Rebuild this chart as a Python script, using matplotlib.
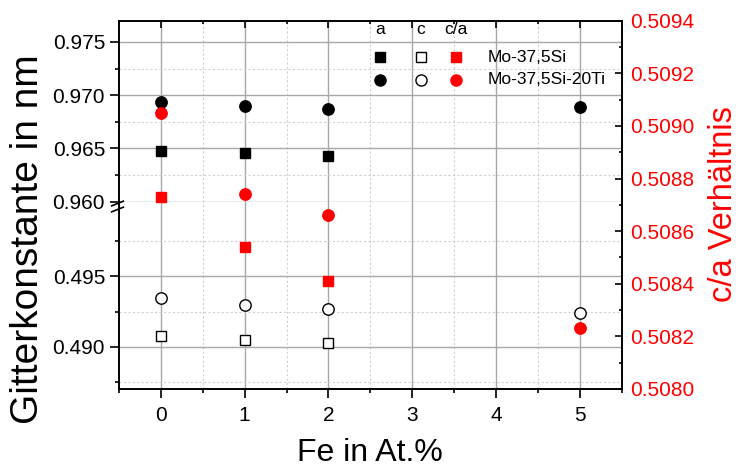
import matplotlib
matplotlib.use("Agg")
import matplotlib.pyplot as plt
from matplotlib.ticker import FixedLocator, MultipleLocator, FormatStrFormatter

plt.rcParams["font.family"] = ["Liberation Sans", "DejaVu Sans"]

# Fe content (at.%) for the two alloys
fe_mosi = [0, 1, 2]
fe_moti = [0, 1, 2, 5]

# lattice parameters a and c in nm, c/a ratio
a_mosi = [0.96480, 0.96453, 0.96428]
a_moti = [0.96937, 0.96900, 0.96875, 0.96890]
c_mosi = [0.49079, 0.49050, 0.49024]
c_moti = [0.49345, 0.49295, 0.49271, 0.49243]
ca_mosi = [0.50873, 0.50854, 0.50841]
ca_moti = [0.50905, 0.50874, 0.50866, 0.50823]

x_ticks = [0, 1, 2, 3, 4, 5]
red = "#ff0000"
tick_fs = 15

fig = plt.figure(figsize=(7.38, 4.68), dpi=100)
L, R = 119 / 738, 621.7 / 738
T, BRK, B = 1 - 20.7 / 468, 1 - 201.7 / 468, 1 - 389 / 468
W = R - L

ax_top = fig.add_axes([L, BRK, W, T - BRK])
ax_bot = fig.add_axes([L, B, W, BRK - B])
ax_r = fig.add_axes([L, B, W, T - B])
ax_r.patch.set_visible(False)

for ax in (ax_top, ax_bot):
    ax.set_xlim(-0.5, 5.5)
    ax.xaxis.set_major_locator(FixedLocator(x_ticks))
    ax.xaxis.set_minor_locator(MultipleLocator(0.5))
    ax.grid(which="major", color="#a8a8a8", lw=1.0, ls="-")
    ax.grid(which="minor", color="#d0d0d0", lw=0.8, ls=(0, (2, 2)))
    ax.set_axisbelow(True)
    ax.spines["right"].set_visible(False)
    ax.spines["left"].set_linewidth(1.4)
    ax.tick_params(axis="y", which="major", direction="out", length=6.5, width=1.2,
                   labelsize=tick_fs)
    ax.tick_params(axis="y", which="minor", direction="out", length=3, width=1.2)
    ax.yaxis.set_major_formatter(FormatStrFormatter("%.3f"))

# upper segment: a
ax_top.set_ylim(0.960, 0.977)
ax_top.yaxis.set_major_locator(FixedLocator([0.960, 0.965, 0.970, 0.975]))
ax_top.yaxis.set_minor_locator(FixedLocator([0.9625, 0.9675, 0.9725]))
ax_top.spines["top"].set_visible(False)
ax_top.spines["bottom"].set_visible(False)
ax_top.tick_params(axis="x", which="both", length=0, labelbottom=False)
ax_top.plot(fe_mosi, a_mosi, ls="none", marker="s", ms=7.5, color="black")
ax_top.plot(fe_moti, a_moti, ls="none", marker="o", ms=8.2, color="black")

# lower segment: c
ax_bot.set_ylim(0.487, 0.5003)
ax_bot.yaxis.set_major_locator(FixedLocator([0.490, 0.495]))
ax_bot.yaxis.set_minor_locator(FixedLocator([0.4875, 0.4925, 0.4975]))
ax_bot.spines["top"].set_visible(False)
ax_bot.spines["bottom"].set_linewidth(1.4)
ax_bot.tick_params(axis="x", which="major", direction="out", length=6.5, width=1.2,
                   labelsize=tick_fs, pad=6)
ax_bot.tick_params(axis="x", which="minor", direction="out", length=3, width=1.2)
ax_bot.plot(fe_mosi, c_mosi, ls="none", marker="s", ms=7.5, mfc="white",
            mec="black", mew=1.0)
ax_bot.plot(fe_moti, c_moti, ls="none", marker="o", ms=8.2, mfc="white",
            mec="black", mew=1.0)

# axis break on the left spine
for yb in (0.994, 0.9626):
    ax_bot.plot([-0.004], [yb], transform=ax_bot.transAxes, marker=[(-1, -0.4), (1, 0.4)],
                ms=9.5, mew=1.2, color="black", clip_on=False, zorder=5)

# right axis: c/a ratio
ax_r.set_xlim(-0.5, 5.5)
ax_r.set_ylim(0.5080, 0.5094)
ax_r.yaxis.tick_right()
ax_r.xaxis.tick_top()
ax_r.xaxis.set_major_locator(FixedLocator(x_ticks))
ax_r.xaxis.set_minor_locator(MultipleLocator(0.5))
ax_r.yaxis.set_major_locator(MultipleLocator(0.0002))
ax_r.yaxis.set_minor_locator(MultipleLocator(0.0001))
ax_r.yaxis.set_major_formatter(FormatStrFormatter("%.4f"))
ax_r.spines["left"].set_visible(False)
ax_r.spines["bottom"].set_visible(False)
ax_r.spines["right"].set_linewidth(1.4)
ax_r.spines["top"].set_linewidth(1.4)
ax_r.tick_params(axis="x", which="major", direction="in", length=5, width=1.2,
                 labeltop=False)
ax_r.tick_params(axis="x", which="minor", direction="in", length=2.5, width=1.2)
ax_r.tick_params(axis="y", which="major", direction="in", length=5, width=1.2,
                 labelsize=tick_fs, labelcolor=red, pad=6)
ax_r.tick_params(axis="y", which="minor", direction="in", length=2.5, width=1.2)
ax_r.plot(fe_mosi, ca_mosi, ls="none", marker="s", ms=7.5, color=red)
ax_r.plot(fe_moti, ca_moti, ls="none", marker="o", ms=8.2, color=red)

# legend table
leg_fs = 12.5
cols = [0.519, 0.601, 0.670]
rows = [0.9014, 0.8390]
for xc, head in zip(cols, ["a", "c", "c/a"]):
    ax_r.text(xc, 0.975, head, transform=ax_r.transAxes, ha="center", va="center",
              fontsize=leg_fs)
styles = [dict(color="black"), dict(mfc="white", mec="black", mew=1.0), dict(color=red)]
for yr, mk, ms, name in zip(rows, ["s", "o"], [7, 8], ["Mo-37,5Si", "Mo-37,5Si-20Ti"]):
    for xc, st in zip(cols, styles):
        ax_r.plot([xc], [yr], transform=ax_r.transAxes, marker=mk, ms=ms, ls="none", **st)
    ax_r.text(0.734, yr, name, transform=ax_r.transAxes, ha="left", va="center",
              fontsize=leg_fs)

fig.text(28 / 738, 0.489, "Gitterkonstante in nm", rotation=90, ha="center",
         va="center", fontsize=28)
fig.text(723 / 738, 0.564, "c/a Verhältnis", rotation=90, ha="center", va="center",
         fontsize=23.5, color=red)
fig.text(0.5014, 1 - 453 / 468, "Fe in At.%", ha="center", va="center", fontsize=23)

fig.savefig("out.png", dpi=100)
